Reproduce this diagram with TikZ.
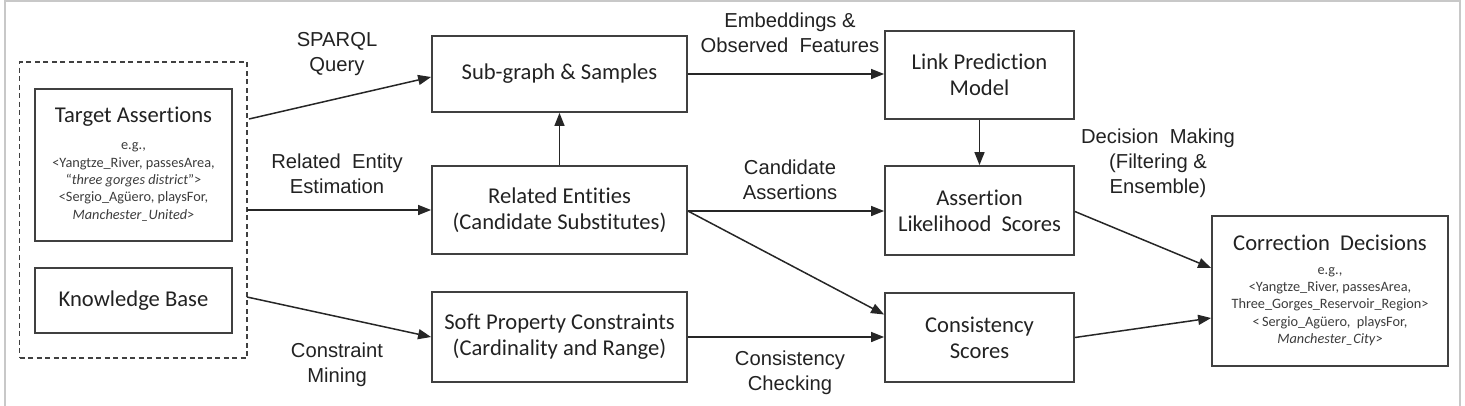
\documentclass[tikz,border=0pt]{standalone}
\usepackage{fontspec}
\setmainfont{Carlito}[RawFeature={-liga;-clig;-calt;-dlig}]
\newfontfamily\labfont{Liberation Sans}
\usetikzlibrary{arrows.meta}
\definecolor{boxline}{HTML}{404040}
\definecolor{frameline}{HTML}{C8C8C8}
\definecolor{boxtext}{HTML}{222222}
\definecolor{extext}{HTML}{3C3C3C}
\tikzset{
  box/.style={draw=boxline, line width=1.8pt, minimum width=#1, inner sep=0pt, anchor=center},
  titletext/.style={font=\fontsize{22.6}{26}\selectfont, text=boxtext, align=center, inner sep=0pt},
  extxt/.style={font=\fontsize{14.3}{17.4}\selectfont, text=extext, align=center, inner sep=0pt},
  lab/.style={font=\labfont\fontsize{20.2}{25}\selectfont, text=boxtext, align=center, inner sep=0pt},
  arr/.style={draw=black!85, line width=1.5pt, -{Triangle[length=13pt,width=10pt]}},
}
\begin{document}
\begin{tikzpicture}[x=1pt,y=-1pt]
\useasboundingbox (0,0) rectangle (1465,405);
% outer frame
\draw[frameline, line width=2pt] (5,410) -- (5,1) -- (1460,1) -- (1460,410);
% dashed group
\node[draw=boxline, line width=1.4pt, dash pattern=on 5pt off 3.5pt, minimum width=227.5pt, minimum height=296pt, inner sep=0pt] (grp) at (133.25,210) {};
% boxes
\node[box=197pt, minimum height=152pt] (ta) at (133.5,165) {};
\node[titletext] (tatitle) at (133.5,117) {Target Assertions};
\node[extxt] (taex) at (133.5,182) {e.g.,\\ {<}Yangtze\_River, passesArea,\\ “\textit{three gorges district}"{>}\\ {<}Sergio\_Agüero, playsFor,\\ \textit{Manchester\_United}{>}};
\node[box=197pt, minimum height=65pt, titletext] (kb) at (133.5,300.5) {Knowledge Base};

\node[box=255pt, minimum height=76pt, titletext] (sg) at (559.5,74) {Sub-graph \& Samples};
\node[box=255pt, minimum height=88pt, titletext] (re) at (559.5,210) {Related Entities\\(Candidate Substitutes)};
\node[box=255pt, minimum height=90pt, titletext] (sp) at (559.5,337) {Soft Property Constraints\\(Cardinality and Range)};

\node[box=189pt, minimum height=88pt, titletext] (lp) at (979.5,75) {Link Prediction\\Model};
\node[box=189pt, minimum height=89pt, titletext] (as) at (979.5,210.5) {Assertion\\Likelihood\ \ Scores};
\node[box=189pt, minimum height=89pt, titletext] (cs) at (979.5,337.5) {Consistency\\Scores};

\node[box=236pt, minimum height=150pt] (cd) at (1330,291) {};
\node[titletext] (cdtitle) at (1330,243) {Correction\ \ Decisions};
\node[extxt] (cdex) at (1330,306.5) {e.g.,\\ {<}Yangtze\_River, passesArea,\\ Three\_Gorges\_Reservoir\_Region{>}\\ {<}\,Sergio\_Agüero,\ \ playsFor,\\ \textit{Manchester\_City}{>}};

% labels
\node[lab] (l1) at (337,54) {SPARQL\\Query};
\node[lab] (l2) at (337,173.5) {Related\ \ Entity\\Estimation};
\node[lab] (l3) at (337,365) {Constraint\\Mining};
\node[lab] (l4) at (790,33) {Embeddings \&\\Observed\ \ Features};
\node[lab] (l5) at (790,180) {Candidate\\Assertions};
\node[lab] (l6) at (790,372.5) {Consistency\\Checking};
\node[lab] (l7) at (1158,163.5) {Decision\ \ Making\\(Filtering \&\\Ensemble)};

% connectors
\coordinate (s1) at (249,119);
\coordinate (s2) at (247,210);
\coordinate (s3) at (247,297);
\draw[arr] (s1) -- ([yshift=-3pt]sg.west);
\draw[arr] (s2) -- (s2 -| re.west);
\draw[arr] (s3) -- (sp.west);
\draw[arr] (re.north) -- (sg.south);
\draw[arr] (sg.east) -- (sg.east -| lp.west);
\draw[arr] (lp.south) -- (as.north);
\draw[arr] ([yshift=-1pt]re.east) -- ([yshift=-1pt]re.east -| as.west);
\draw[arr] ([yshift=-1pt]re.east) -- ([yshift=23pt]cs.west);
\draw[arr] (sp.east) -- (sp.east -| cs.west);
\draw[arr] ([yshift=-1pt]as.east) -- ([yshift=23pt]cd.west);
\draw[arr] (cs.east) -- ([yshift=-27pt]cd.west);
\end{tikzpicture}
\end{document}
